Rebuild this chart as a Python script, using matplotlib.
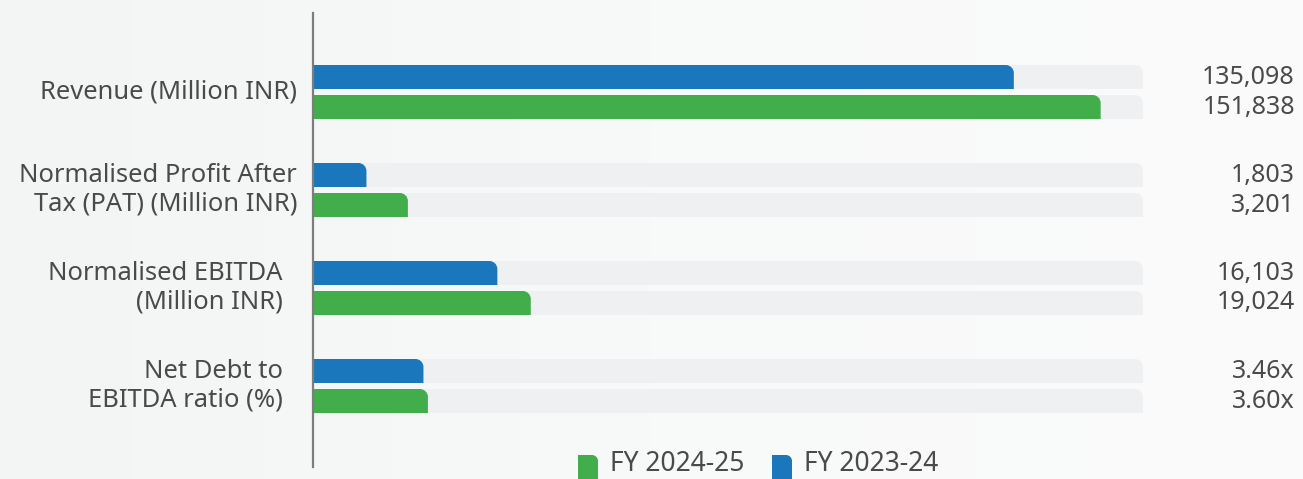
import matplotlib
matplotlib.use("Agg")
import matplotlib.pyplot as plt
import numpy as np
from matplotlib.path import Path
from matplotlib.patches import PathPatch
from matplotlib.colors import LinearSegmentedColormap

# ---- data ----
categories = [
    "Revenue (Million INR)",
    "Normalised Profit After\nTax (PAT) (Million INR)",
    "Normalised EBITDA\n(Million INR)",
    "Net Debt to\nEBITDA ratio (%)",
]
fy2024_25 = [151838, 3201, 19024, 3.60]
fy2023_24 = [135098, 1803, 16103, 3.46]
labels_2024_25 = ["151,838", "3,201", "19,024", "3.60x"]
labels_2023_24 = ["135,098", "1,803", "16,103", "3.46x"]
# full length of the grey track for each metric
track_max = [160000, 28000, 72500, 26.0]
series_names = ["FY 2024-25", "FY 2023-24"]

# ---- style ----
GREEN = "#41ae4b"
BLUE = "#1a77bc"
TRACK = "#eff0f2"
TEXT = "#4a4a4a"
FONT = "Noto Sans"
label_pad_px = [16, 16, 30, 30]

W, H, DPI = 1303, 479, 100
fig = plt.figure(figsize=(W / DPI, H / DPI), dpi=DPI)
fig.patch.set_facecolor("#f6f7f7")

# soft horizontal background shading
bg = fig.add_axes([0, 0, 1, 1], zorder=-10)
grad = np.linspace(0, 1, 256)[None, :]
cmap = LinearSegmentedColormap.from_list("bg", ["#f3f4f4", "#f8f9f9", "#fbfbfb"])
bg.imshow(grad, aspect="auto", cmap=cmap, extent=[0, 1, 0, 1])
bg.set_axis_off()

# main axes: x spans the track (0..1), y in category units
ax_left, ax_right = 313, 1143
ax_top, ax_bot = 13, 467
ax = fig.add_axes([ax_left / W, (H - ax_bot) / H,
                   (ax_right - ax_left) / W, (ax_bot - ax_top) / H])
ax.set_facecolor("none")
row_px = 98.0
ax.set_xlim(0, 1)
ax.set_ylim((ax_bot - 92) / row_px, (ax_top - 92) / row_px)  # inverted

px_x = (ax_right - ax_left) / 1.0
px_y = (ax_bot - ax_top) / abs(ax.get_ylim()[0] - ax.get_ylim()[1])

bar_h = 24 / row_px
offset = 15 / row_px
radius_px = 8


def top_round_bar(ax, width, yc, height, color, z):
    """Horizontal bar from x=0 with only its upper-right corner rounded."""
    rx = radius_px / px_x
    ry = radius_px / px_y
    rx = min(rx, width)
    x1 = width
    y_top = yc - height / 2
    y_bot = yc + height / 2
    k = 0.5523
    verts = [
        (0, y_bot), (x1, y_bot), (x1, y_top + ry),
        (x1, y_top + ry - k * ry), (x1 - rx + k * rx, y_top), (x1 - rx, y_top),
        (0, y_top), (0, y_bot),
    ]
    codes = [Path.MOVETO, Path.LINETO, Path.LINETO,
             Path.CURVE4, Path.CURVE4, Path.CURVE4,
             Path.LINETO, Path.CLOSEPOLY]
    ax.add_patch(PathPatch(Path(verts, codes), facecolor=color,
                           edgecolor="none", zorder=z))


for i, cat in enumerate(categories):
    for val, lab, dy, col in [(fy2023_24[i], labels_2023_24[i], -offset, BLUE),
                              (fy2024_25[i], labels_2024_25[i], offset, GREEN)]:
        yc = i + dy
        top_round_bar(ax, 1.0, yc, bar_h, TRACK, 1)
        top_round_bar(ax, val / track_max[i], yc, bar_h, col, 2)
        ax.text((1295 - ax_left) / px_x, yc, lab, ha="right", va="center",
                fontsize=18, color=TEXT, family=FONT)
    ax.text(-label_pad_px[i] / px_x, i, cat, ha="right", va="center",
            fontsize=18.4, color=TEXT, family=FONT, linespacing=1.18)

for s in ["top", "right", "bottom"]:
    ax.spines[s].set_visible(False)
ax.spines["left"].set_color("#7d7d7d")
ax.spines["left"].set_linewidth(1.6)
ax.set_xticks([])
ax.set_yticks([])

# legend along the bottom edge
leg = fig.add_axes([0, 0, 1, 1], zorder=5)
leg.set_xlim(0, W)
leg.set_ylim(H, 0)
leg.set_axis_off()


def legend_chip(x0, color):
    r = 6
    x1, y0, y1 = x0 + 20, 455, 482
    k = 0.5523
    verts = [(x0, y1), (x1, y1), (x1, y0 + r),
             (x1, y0 + r - k * r), (x1 - r + k * r, y0), (x1 - r, y0),
             (x0, y0), (x0, y1)]
    codes = [Path.MOVETO, Path.LINETO, Path.LINETO,
             Path.CURVE4, Path.CURVE4, Path.CURVE4,
             Path.LINETO, Path.CLOSEPOLY]
    leg.add_patch(PathPatch(Path(verts, codes), facecolor=color, edgecolor="none"))


for x0, col, name in [(578, GREEN, series_names[0]), (772, BLUE, series_names[1])]:
    legend_chip(x0, col)
    leg.text(x0 + 32, 478, name, ha="left", va="bottom", fontsize=19,
             color=TEXT, family=FONT)

fig.savefig("out.png", dpi=DPI, facecolor=fig.get_facecolor())
